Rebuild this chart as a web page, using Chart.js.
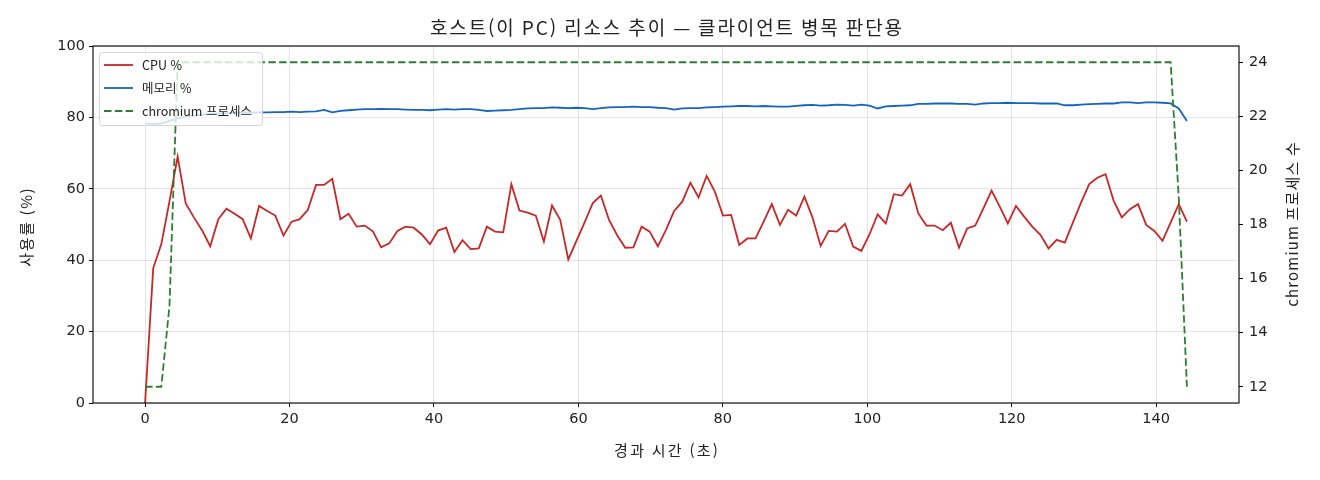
<!DOCTYPE html>
<html lang="ko">
<head>
<meta charset="utf-8">
<title>호스트 리소스 추이</title>
<script src="https://cdn.jsdelivr.net/npm/chart.js@4.4.1/dist/chart.umd.min.js"></script>
<style>
  html, body { margin: 0; padding: 0; background: #fff; }
  #wrap { width: 1320px; height: 480px; }
</style>
</head>
<body>
<div id="wrap"><canvas id="chart" width="1320" height="480"></canvas></div>
<script>
const FONT = '"Noto Sans CJK KR", "Noto Sans", sans-serif';
const NUM_FONT = '"DejaVu Sans", "Noto Sans", sans-serif';
const TEXT = '#222';

// elapsed seconds of each sample
const times = [
  0.00, 1.13, 2.25, 3.38, 4.51, 5.64, 6.76, 7.89, 9.02, 10.14,
  11.27, 12.40, 13.52, 14.65, 15.78, 16.91, 18.03, 19.16, 20.29, 21.41,
  22.54, 23.67, 24.79, 25.92, 27.05, 28.18, 29.30, 30.43, 31.56, 32.68,
  33.81, 34.94, 36.06, 37.19, 38.32, 39.45, 40.57, 41.70, 42.83, 43.95,
  45.08, 46.21, 47.33, 48.46, 49.59, 50.72, 51.84, 52.97, 54.10, 55.22,
  56.35, 57.48, 58.60, 59.73, 60.86, 61.99, 63.11, 64.24, 65.37, 66.49,
  67.62, 68.75, 69.87, 71.00, 72.13, 73.26, 74.38, 75.51, 76.64, 77.76,
  78.89, 80.02, 81.14, 82.27, 83.40, 84.53, 85.65, 86.78, 87.91, 89.03,
  90.16, 91.29, 92.41, 93.54, 94.67, 95.80, 96.92, 98.05, 99.18, 100.30,
  101.43, 102.56, 103.68, 104.81, 105.94, 107.07, 108.19, 109.32, 110.45, 111.57,
  112.70, 113.83, 114.95, 116.08, 117.21, 118.34, 119.46, 120.59, 121.72, 122.84,
  123.97, 125.10, 126.22, 127.35, 128.48, 129.61, 130.73, 131.86, 132.99, 134.11,
  135.24, 136.37, 137.49, 138.62, 139.75, 140.88, 142.00, 143.13, 144.26
];

const cpuPct = [
  0.0, 37.8, 44.5, 56.5, 69.0, 55.8, 52.0, 48.4, 43.9, 51.5,
  54.4, 53.0, 51.5, 46.1, 55.2, 53.8, 52.5, 46.9, 50.8, 51.5,
  54.1, 61.1, 61.1, 62.8, 51.5, 53.0, 49.4, 49.7, 48.0, 43.6,
  44.7, 48.2, 49.4, 49.1, 47.2, 44.5, 48.3, 49.1, 42.3, 45.6,
  43.1, 43.3, 49.4, 48.0, 47.8, 61.3, 53.9, 53.3, 52.5, 45.2,
  55.3, 51.3, 40.2, 45.4, 50.6, 56.0, 58.1, 51.3, 47.0, 43.5,
  43.6, 49.4, 48.0, 43.9, 48.5, 53.8, 56.4, 61.7, 57.6, 63.6,
  59.2, 52.5, 52.7, 44.3, 46.1, 46.1, 50.8, 55.7, 49.9, 54.1,
  52.5, 57.8, 52.0, 44.0, 48.2, 48.0, 50.2, 43.8, 42.6, 47.2,
  52.8, 50.3, 58.5, 58.1, 61.3, 53.1, 49.7, 49.7, 48.4, 50.5,
  43.5, 48.9, 49.7, 54.5, 59.5, 55.0, 50.3, 55.2, 52.2, 49.4,
  47.1, 43.3, 45.7, 44.9, 50.6, 56.2, 61.3, 63.1, 64.1, 56.7,
  52.0, 54.3, 55.7, 49.9, 48.2, 45.4, 50.5, 55.7, 50.8
];

const memPct = [
  78.3, 78.1, 78.3, 79.0, 79.7, 80.2, 80.5, 80.8, 81.0, 81.1,
  81.2, 81.3, 81.3, 81.3, 81.4, 81.4, 81.5, 81.5, 81.6, 81.5,
  81.6, 81.7, 82.1, 81.4, 81.8, 82.0, 82.2, 82.3, 82.3, 82.4,
  82.3, 82.3, 82.2, 82.1, 82.1, 82.0, 82.2, 82.3, 82.2, 82.3,
  82.3, 82.1, 81.8, 81.9, 82.0, 82.1, 82.3, 82.5, 82.6, 82.6,
  82.8, 82.7, 82.6, 82.7, 82.6, 82.3, 82.6, 82.8, 82.9, 82.9,
  83.0, 82.9, 82.9, 82.7, 82.6, 82.2, 82.5, 82.6, 82.6, 82.8,
  82.9, 83.0, 83.1, 83.2, 83.2, 83.1, 83.2, 83.1, 83.0, 83.0,
  83.2, 83.4, 83.5, 83.3, 83.4, 83.6, 83.5, 83.3, 83.6, 83.3,
  82.5, 83.1, 83.2, 83.3, 83.4, 83.8, 83.8, 83.9, 83.9, 83.9,
  83.8, 83.8, 83.6, 83.9, 84.0, 84.0, 84.1, 84.0, 84.0, 84.0,
  83.9, 83.9, 83.9, 83.4, 83.4, 83.6, 83.7, 83.8, 83.9, 83.9,
  84.2, 84.2, 84.0, 84.2, 84.2, 84.1, 83.9, 82.5, 79.0
];

const chromiumProcs = [
  12, 12, 12, 15, 24, 24, 24, 24, 24, 24,
  24, 24, 24, 24, 24, 24, 24, 24, 24, 24,
  24, 24, 24, 24, 24, 24, 24, 24, 24, 24,
  24, 24, 24, 24, 24, 24, 24, 24, 24, 24,
  24, 24, 24, 24, 24, 24, 24, 24, 24, 24,
  24, 24, 24, 24, 24, 24, 24, 24, 24, 24,
  24, 24, 24, 24, 24, 24, 24, 24, 24, 24,
  24, 24, 24, 24, 24, 24, 24, 24, 24, 24,
  24, 24, 24, 24, 24, 24, 24, 24, 24, 24,
  24, 24, 24, 24, 24, 24, 24, 24, 24, 24,
  24, 24, 24, 24, 24, 24, 24, 24, 24, 24,
  24, 24, 24, 24, 24, 24, 24, 24, 24, 24,
  24, 24, 24, 24, 24, 24, 24, 19, 12
];

const xTicks = [0, 20, 40, 60, 80, 100, 120, 140];
const pctTicks = [0, 20, 40, 60, 80, 100];
const procTicks = [12, 14, 16, 18, 20, 22, 24];

const titleText = '호스트(이 PC) 리소스 추이 — 클라이언트 병목 판단용';
const xLabel = '경과 시간 (초)';
const yLabel = '사용률 (%)';
const y2Label = 'chromium 프로세스 수';

const toPoints = (ys) => times.map((t, i) => ({ x: t, y: ys[i] }));
const fixTicks = (list) => (scale) => { scale.ticks = list.map(v => ({ value: v })); };

// draw one centred label, stretched with letter spacing to a given width
function drawLabel(ctx, text, x, y, size, width, angle) {
  ctx.save();
  ctx.translate(x, y);
  if (angle) ctx.rotate(angle);
  ctx.font = size + 'px ' + FONT;
  ctx.fillStyle = TEXT;
  ctx.textAlign = 'center';
  ctx.textBaseline = 'middle';
  if ('letterSpacing' in ctx) {
    ctx.letterSpacing = '0px';
    const w = ctx.measureText(text).width;
    const sp = Math.max(0, (width - w) / [...text].length);
    ctx.letterSpacing = sp.toFixed(2) + 'px';
    ctx.fillText(text, sp / 2, 0);
  } else {
    ctx.fillText(text, 0, 0);
  }
  ctx.restore();
}

// black box round the plot area, like matplotlib spines
const framePlugin = {
  id: 'frame',
  afterDatasetsDraw(chart) {
    const { ctx, chartArea: a } = chart;
    ctx.save();
    ctx.strokeStyle = '#000';
    ctx.lineWidth = 1.1;
    ctx.strokeRect(a.left, a.top, a.right - a.left, a.bottom - a.top);
    ctx.restore();
  }
};

// title and axis labels
const labelsPlugin = {
  id: 'labels',
  afterDraw(chart) {
    const { ctx, chartArea: a } = chart;
    const midX = (a.left + a.right) / 2;
    const midY = (a.top + a.bottom) / 2;
    drawLabel(ctx, titleText, midX, 28, 19, 474, 0);
    drawLabel(ctx, xLabel, midX, 450, 15, 106, 0);
    drawLabel(ctx, yLabel, 26, midY + 3, 15, 80, -Math.PI / 2);
    drawLabel(ctx, y2Label, 1292, midY, 15, 166, -Math.PI / 2);
  }
};

// legend sits inside the plot, upper left, half see-through
const legendPlugin = {
  id: 'innerLegend',
  afterDraw(chart) {
    const { ctx } = chart;
    const x = 99, y = 52, w = 163, h = 73;
    ctx.save();
    ctx.fillStyle = 'rgba(255,255,255,0.8)';
    ctx.strokeStyle = 'rgba(204,204,204,0.8)';
    ctx.lineWidth = 1;
    ctx.beginPath();
    ctx.roundRect(x + 0.5, y + 0.5, w, h, 3);
    ctx.fill();
    ctx.stroke();
    const order = [2, 1, 0]; // cpu, memory, chromium
    order.forEach((di, row) => {
      const ds = chart.data.datasets[di];
      const ly = y + 13 + row * 23;
      ctx.strokeStyle = ds.borderColor;
      ctx.lineWidth = ds.borderWidth;
      ctx.setLineDash(ds.borderDash || []);
      ctx.beginPath();
      ctx.moveTo(104, ly);
      ctx.lineTo(133, ly);
      ctx.stroke();
      ctx.setLineDash([]);
      ctx.fillStyle = TEXT;
      ctx.font = '12.5px ' + FONT;
      ctx.textBaseline = 'middle';
      ctx.fillText(ds.label, 142, ly);
    });
    ctx.restore();
  }
};

const gridColor = 'rgba(176,176,176,0.33)';
const tickFont = { family: NUM_FONT, size: 14.5 };

new Chart(document.getElementById('chart'), {
  type: 'line',
  data: {
    datasets: [
      {
        label: 'chromium 프로세스',
        data: toPoints(chromiumProcs),
        yAxisID: 'y2',
        borderColor: '#2e7d32',
        borderWidth: 1.8,
        borderDash: [7.5, 3.3],
        order: 0
      },
      {
        label: '메모리 %',
        data: toPoints(memPct),
        yAxisID: 'y',
        borderColor: '#1565c0',
        borderWidth: 1.8,
        order: 1
      },
      {
        label: 'CPU %',
        data: toPoints(cpuPct),
        yAxisID: 'y',
        borderColor: '#c62828',
        borderWidth: 1.8,
        order: 2
      }
    ]
  },
  options: {
    responsive: false,
    animation: false,
    devicePixelRatio: 1,
    layout: { padding: { top: 46 } },
    elements: { point: { radius: 0 }, line: { tension: 0, fill: false } },
    plugins: {
      legend: { display: false },
      tooltip: { enabled: false },
      title: { display: false }
    },
    scales: {
      x: {
        type: 'linear',
        min: -7.21,
        max: 151.47,
        afterBuildTicks: fixTicks(xTicks),
        afterFit: (s) => { s.height = 77; },
        border: { display: false },
        grid: { color: gridColor, lineWidth: 1, tickLength: 4, tickColor: '#000', tickWidth: 1 },
        ticks: { color: TEXT, font: tickFont, padding: 4, maxRotation: 0 }
      },
      y: {
        position: 'left',
        min: 0,
        max: 100,
        afterBuildTicks: fixTicks(pctTicks),
        afterFit: (s) => { s.width = 93; },
        border: { display: false },
        grid: { color: gridColor, lineWidth: 1, tickLength: 4, tickColor: '#000', tickWidth: 1 },
        ticks: { color: TEXT, font: tickFont, padding: 4 }
      },
      y2: {
        position: 'right',
        min: 11.4,
        max: 24.6,
        afterBuildTicks: fixTicks(procTicks),
        afterFit: (s) => { s.width = 81; },
        border: { display: false },
        grid: { drawOnChartArea: false, tickLength: 4, tickColor: '#000', tickWidth: 1 },
        ticks: { color: TEXT, font: tickFont, padding: 6 }
      }
    }
  },
  plugins: [framePlugin, legendPlugin, labelsPlugin]
});
</script>
</body>
</html>
